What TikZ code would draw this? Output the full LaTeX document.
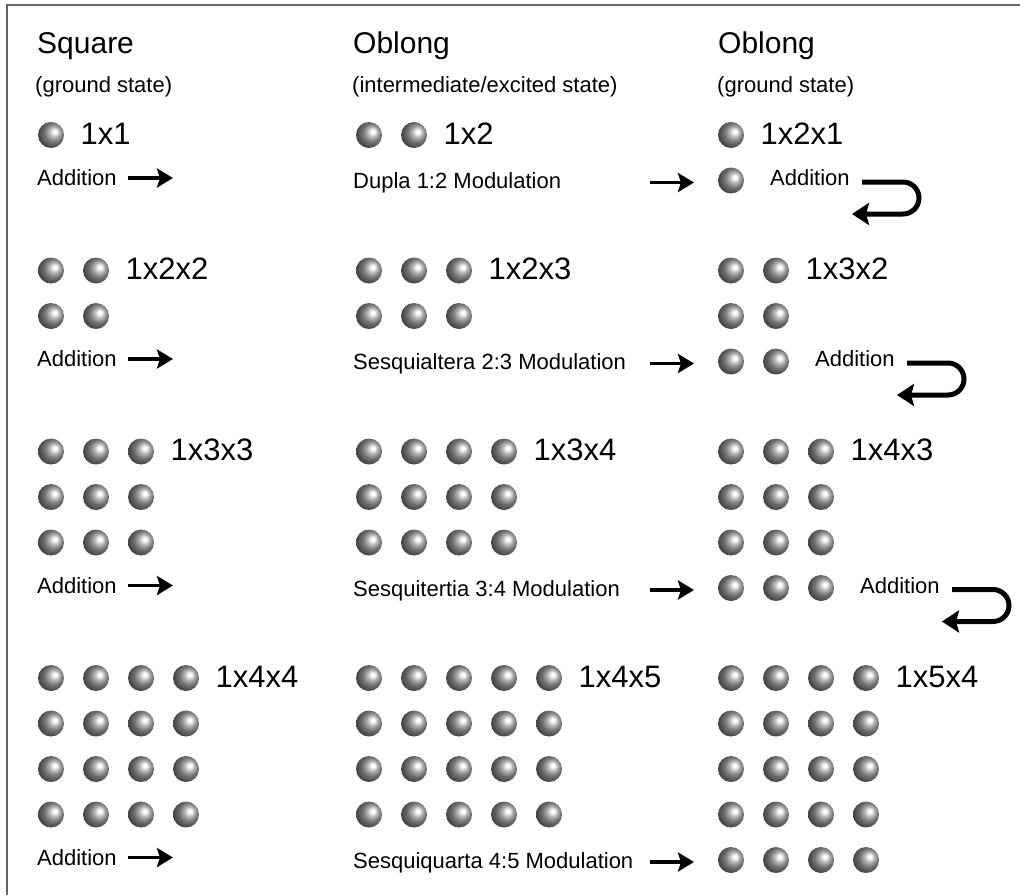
\documentclass[tikz,border=0pt]{standalone}
\usepackage{fontspec}
\setmainfont{Liberation Sans}
\usetikzlibrary{arrows.meta}

% shaded sphere, highlight towards the upper right
\pgfdeclareradialshading{sphere}{\pgfpoint{8bp}{7bp}}{%
  color(0bp)=(white); color(3bp)=(white); color(10bp)=(black!30);
  color(18bp)=(black!55); color(26bp)=(black!70); color(34bp)=(black!82);
  color(50bp)=(black!88)}

\tikzset{
  ball/.style={circle, inner sep=0pt, minimum size=26pt, shade, shading=sphere},
  headtxt/.style={anchor=base west, inner sep=0pt, font=\fontsize{30}{34}\selectfont},
  subtxt/.style={anchor=base west, inner sep=0pt, font=\fontsize{22}{26}\selectfont},
  dimtxt/.style={anchor=base west, inner sep=0pt, font=\fontsize{31}{35}\selectfont},
  notetxt/.style={anchor=base west, inner sep=0pt, font=\fontsize{22}{26}\selectfont},
  goarrow/.style={line width=3.5pt, -{Stealth[length=16pt,width=19pt,inset=3pt]}},
  backarrow/.style={line width=5pt, -{Stealth[length=17pt,width=22pt,inset=3pt]}},
}

\begin{document}
\begin{tikzpicture}[x=1pt,y=-1pt]
\useasboundingbox (0,0) rectangle (1020,895);

% frame (top and left edges)
\coordinate (fbl) at (7,895);
\coordinate (ftl) at (7,5);
\coordinate (ftr) at (1020,5);
\draw[line width=2pt, black!60] (fbl) -- (ftl) -- (ftr);

% column headings
\node[headtxt] (h1) at (37,53) {Square};
\node[headtxt] (h2) at (353,53) {Oblong};
\node[headtxt] (h3) at (718,53) {Oblong};
\node[subtxt] (s1) at (35,92) {(ground state)};
\node[subtxt] (s2) at (352,92) {(intermediate/excited state)};
\node[subtxt] (s3) at (717,92) {(ground state)};

% ---- square arrays: r x r balls ----
\foreach \r/\T in {1/135,2/270.5,3/451.5,4/678} {
  \foreach \i in {1,...,\r} {
    \foreach \j in {1,...,\r} {
      \node[ball] (sq-\r-\i-\j) at ({51+45*(\j-1)},{\T+45.5*(\i-1)}) {};
    }
  }
}
% ---- intermediate oblong arrays: r rows of r+1 balls ----
\foreach \r/\T in {1/135,2/270.5,3/451.5,4/678} {
  \foreach \i in {1,...,\r} {
    \foreach \j in {1,...,\numexpr\r+1\relax} {
      \node[ball] (mo-\r-\i-\j) at ({369+45*(\j-1)},{\T+45.5*(\i-1)}) {};
    }
  }
}
% ---- ground oblong arrays: r+1 rows of r balls ----
\foreach \r/\T in {1/135,2/270.5,3/451.5,4/678} {
  \foreach \i in {1,...,\numexpr\r+1\relax} {
    \foreach \j in {1,...,\r} {
      \node[ball] (ob-\r-\i-\j) at ({731+45*(\j-1)},{\T+45.5*(\i-1)}) {};
    }
  }
}

% dimension labels
\node[dimtxt] (d11) at (80.5,144)  {1x1};
\node[dimtxt] (d12) at (125.5,279.5) {1x2x2};
\node[dimtxt] (d13) at (170.5,460.5) {1x3x3};
\node[dimtxt] (d14) at (215.5,687) {1x4x4};
\node[dimtxt] (d21) at (443.5,144) {1x2};
\node[dimtxt] (d22) at (488.5,279.5) {1x2x3};
\node[dimtxt] (d23) at (533.5,460.5) {1x3x4};
\node[dimtxt] (d24) at (578.5,687) {1x4x5};
\node[dimtxt] (d31) at (760.5,144) {1x2x1};
\node[dimtxt] (d32) at (805.5,279.5) {1x3x2};
\node[dimtxt] (d33) at (850.5,460.5) {1x4x3};
\node[dimtxt] (d34) at (895.5,687) {1x5x4};

% "Addition" steps under the squares
\foreach \k/\y in {1/180.5,2/361.5,3/588,4/860} {
  \node[notetxt] (add-\k) at (37,\y+5) {Addition};
  \coordinate (adds-\k) at (128,\y-2.5);
  \coordinate (adde-\k) at (173,\y-2.5);
  \draw[goarrow] (adds-\k) -- (adde-\k);
}

% modulation steps
\node[notetxt] (mod-1) at (353,188.5) {Dupla 1:2 Modulation};
\node[notetxt] (mod-2) at (353,369.5) {Sesquialtera 2:3 Modulation};
\node[notetxt] (mod-3) at (353,596) {Sesquitertia 3:4 Modulation};
\node[notetxt] (mod-4) at (353,868) {Sesquiquarta 4:5 Modulation};
\foreach \k/\y in {1/180.5,2/361.5,3/588,4/860} {
  \coordinate (mods-\k) at (650,\y+2);
  \coordinate (mode-\k) at (694,\y+2);
  \draw[goarrow] (mods-\k) -- (mode-\k);
}

% "Addition" with return arrows beside the ground oblongs
\foreach \k/\c/\y in {1/731/180.5,2/776/361.5,3/821/588} {
  \node[notetxt] (radd-\k) at (\c+39,\y+5) {Addition};
  \coordinate (rs-\k) at (\c+131,\y+1.5);
  \coordinate (re-\k) at (\c+121,\y+33.5);
  \draw[backarrow] (rs-\k) -- ++(41,0) arc (-90:90:16) -- (re-\k);
}
\end{tikzpicture}
\end{document}
